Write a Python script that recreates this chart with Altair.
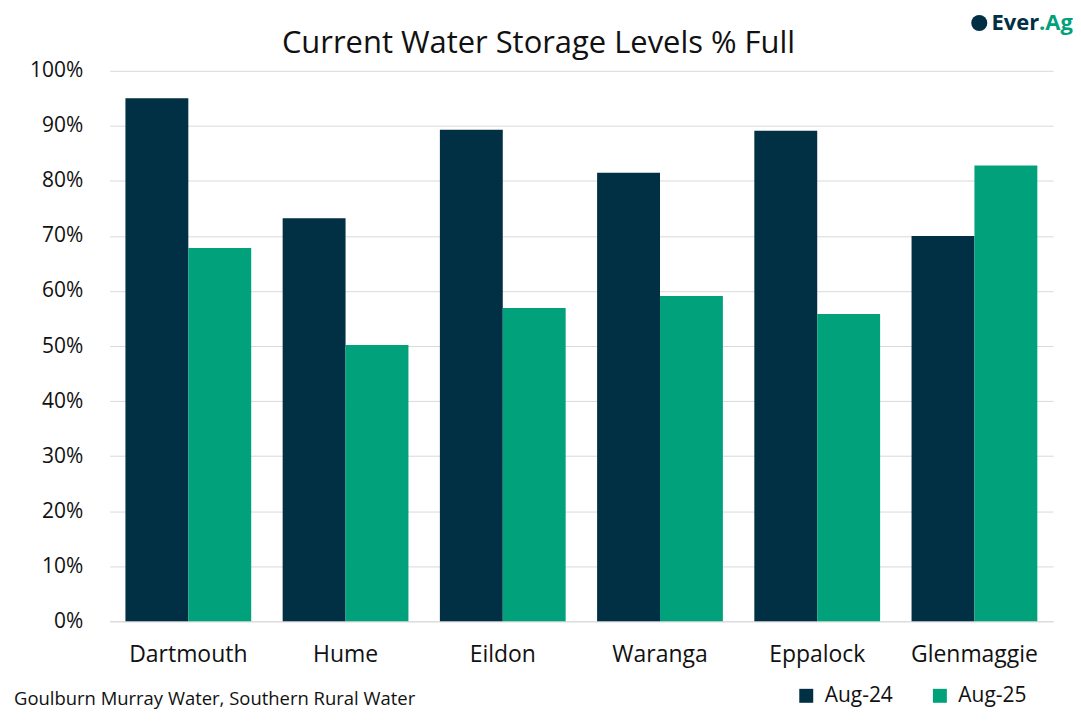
import altair as alt
import pandas as pd

categories = ["Dartmouth", "Hume", "Eildon", "Waranga", "Eppalock", "Glenmaggie"]
series = ["Aug-24", "Aug-25"]
aug24 = [95.0, 73.2, 89.3, 81.5, 89.1, 70.0]
aug25 = [67.8, 50.2, 56.9, 59.1, 55.8, 82.8]
colors = ["#012F44", "#01A17C"]
y_ticks = [0, 10, 20, 30, 40, 50, 60, 70, 80, 90, 100]
title_text = "Current Water Storage Levels % Full"
source_text = "Goulburn Murray Water, Southern Rural Water"

rows = []
for c, a, b in zip(categories, aug24, aug25):
    rows.append({"site": c, "series": series[0], "value": a})
    rows.append({"site": c, "series": series[1], "value": b})
df = pd.DataFrame(rows)

FONT = "Open Sans"

bars = alt.Chart(df).mark_bar().encode(
    x=alt.X("site:N", sort=categories, title=None,
            scale=alt.Scale(paddingInner=0.2, paddingOuter=0.1),
            axis=alt.Axis(labelAngle=0, labelFontSize=23, labelColor="#111111",
                          labelPadding=22, ticks=False, domain=True, grid=False,
                          domainColor="#d9d9d9", labelFont=FONT)),
    xOffset=alt.XOffset("series:N", sort=series),
    y=alt.Y("value:Q", title=None,
            scale=alt.Scale(domain=[0, 100], nice=False),
            axis=alt.Axis(values=y_ticks, labelExpr="datum.value + '%'",
                          labelFontSize=21, labelColor="#111111", labelPadding=27,
                          ticks=False, domain=False, gridColor="#d9d9d9",
                          labelFont=FONT)),
    color=alt.Color("series:N", sort=series, title=None,
                    scale=alt.Scale(domain=series, range=colors),
                    legend=alt.Legend(orient="none", direction="horizontal",
                                      legendX=688, legendY=616,
                                      symbolType="square", symbolSize=196,
                                      symbolStrokeWidth=0,
                                      labelFontSize=21, labelFont=FONT,
                                      labelColor="#111111", columnPadding=36,
                                      labelOffset=8)),
)

def text_layer(t, **kw):
    return alt.Chart(pd.DataFrame({"t": [t]})).mark_text(**kw).encode(text="t:N")

title = text_layer(title_text, align="center", baseline="alphabetic", fontSize=31,
                   font=FONT, color="#111111").encode(x=alt.value(430), y=alt.value(-18))

source = text_layer(source_text, align="left", baseline="alphabetic", fontSize=18.5,
                    font=FONT, color="#111111").encode(x=alt.value(-96), y=alt.value(636))

logo_a = text_layer("Ever", align="right", baseline="middle", fontSize=22, font=FONT,
                    fontWeight="bold", color="#012F44").encode(x=alt.value(932), y=alt.value(-48))
logo_b = text_layer(".Ag", align="left", baseline="middle", fontSize=22, font=FONT,
                    fontWeight="bold", color="#01A17C").encode(x=alt.value(932), y=alt.value(-48))
logo_icon = alt.Chart(pd.DataFrame({"t": ["e"]})).mark_point(
    shape="circle", filled=True, size=260, color="#012F44", opacity=1
).encode(x=alt.value(872), y=alt.value(-48))

chart = alt.layer(bars, title, source, logo_icon, logo_a, logo_b).properties(
    width=946, height=552,
    padding={"left": 102, "top": 62, "right": 20, "bottom": 90},
    autosize=alt.AutoSizeParams(type="none"),
    background="white",
).configure_view(strokeWidth=0, stroke=None)

chart.save("out.html", embed_options={"renderer": "svg", "actions": False})
